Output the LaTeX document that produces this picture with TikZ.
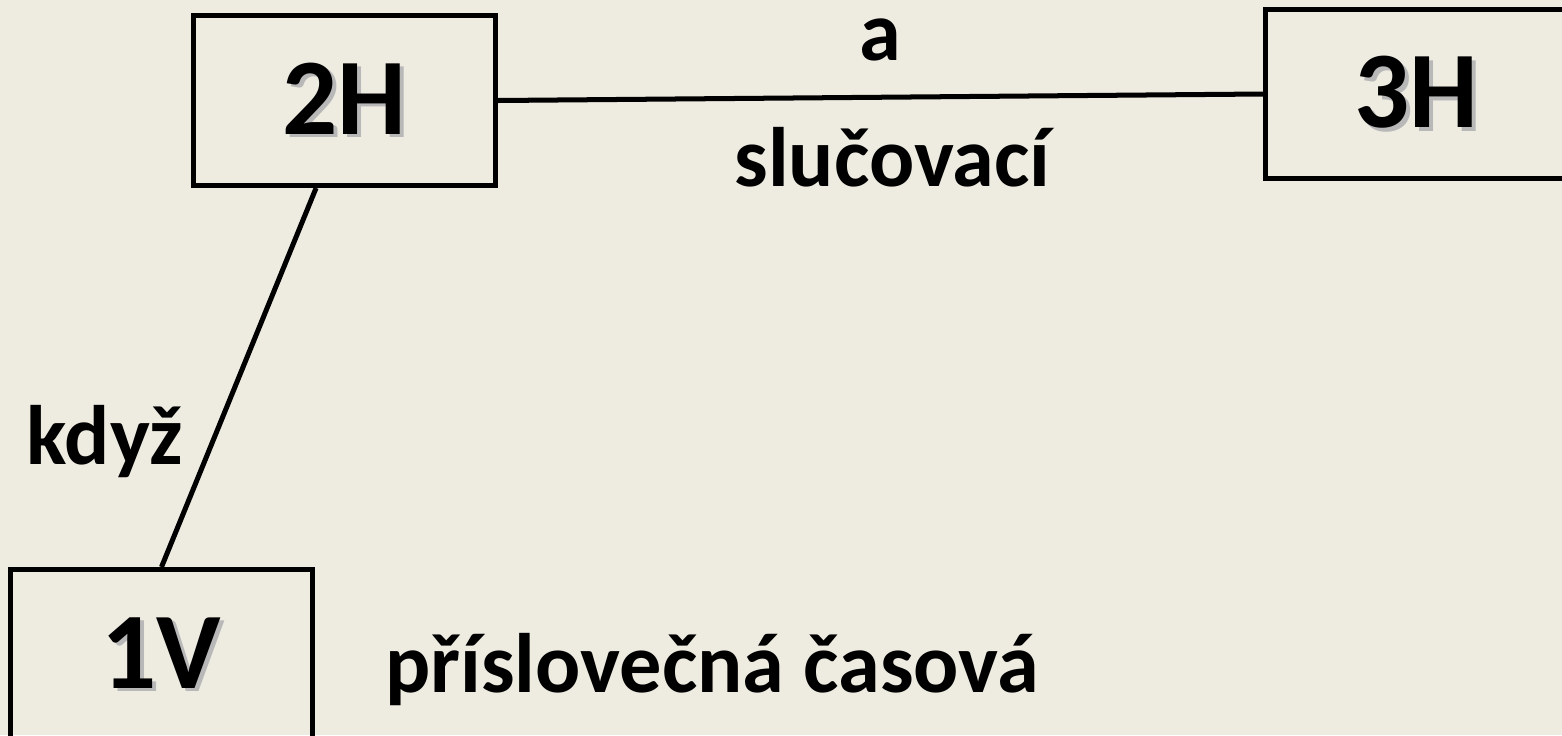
\documentclass[tikz,border=0pt]{standalone}
\usepackage{fontspec}
\setmainfont{Carlito}
\usetikzlibrary{positioning}
\definecolor{paper}{HTML}{EEEBE1}
\newcommand{\dropshadowtext}[1]{\makebox[0pt][l]{\kern2pt\raisebox{-2pt}{\textcolor{black!28}{#1}}}#1}

\begin{document}
\begin{tikzpicture}
  [
    x=0.02cm, y=-0.02cm,
    clause/.style={draw, rectangle, line width=2.85pt, minimum width=6.04cm, minimum height=3.4cm, inner sep=0pt, font=\fontsize{62}{66}\selectfont\bfseries},
    conj/.style={font=\fontsize{48}{52}\selectfont\bfseries, inner sep=0pt},
    link/.style={line width=2.85pt},
  ]
  \fill [paper] (0,0) rectangle (1562,735);
  \useasboundingbox (0,0) rectangle (1562,735);

  \node (2H) [clause] at (344.5,100.5) {\dropshadowtext{2H}};
  \node (3H) [clause] at (1416.5,94) {\dropshadowtext{3H}};
  \node (1V) [clause] at (161.5,654.5) {\dropshadowtext{1V}};

  \draw [link] (2H.east) -- node (a) [conj, above=0.68cm] {a}
    node (slucovaci) [conj, below=0.56cm, xshift=0.24cm] {slučovací} (3H.west);
  \draw [link] (2H.-108) -- node (kdyz) [conj, pos=0.67, left=0.54cm] {když} (1V.north);

  \node (casova) [conj, anchor=base west] at (385,692) {příslovečná časová};
\end{tikzpicture}
\end{document}
